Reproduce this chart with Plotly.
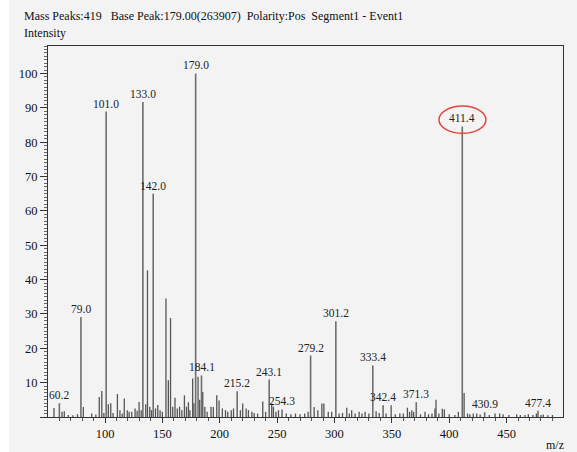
import plotly.graph_objects as go

# Labelled peaks (m/z, relative intensity %)
label_mz = [60.2, 79.0, 101.0, 133.0, 142.0, 179.0, 184.1, 215.2, 243.1, 254.3,
            279.2, 301.2, 333.4, 342.4, 371.3, 411.4, 430.9, 477.4]
label_int = [4.0, 29.1, 88.9, 91.7, 65.0, 100.0, 12.1, 7.5, 10.9, 2.2,
             17.9, 27.9, 15.0, 3.4, 4.3, 84.6, 1.4, 1.8]
label_text = ["60.2", "79.0", "101.0", "133.0", "142.0", "179.0", "184.1", "215.2",
              "243.1", "254.3", "279.2", "301.2", "333.4", "342.4", "371.3", "411.4",
              "430.9", "477.4"]

# Unlabelled peaks
other_mz = [55.5, 62.5, 64.5, 68, 72, 76, 81.1, 88.4, 92, 95.0, 97.2, 99, 102.9, 105, 107,
            110.8, 113, 115, 116.8, 119.4, 121, 123.3, 126.2, 128, 129.7, 131.5, 135.5,
            137, 139, 140.5, 144, 146, 148, 150, 153.1, 155.2, 157.1, 159, 161, 163, 165,
            167, 169.2, 171, 172.7, 174, 176.4, 177.5, 181.1, 182.5, 185.2, 187, 189,
            192.4, 194.4, 197.4, 199.4, 202.3, 205, 207, 210, 212, 218, 220, 223, 225,
            228, 230, 233, 237.5, 240, 245.3, 246.8, 249, 251.2, 258, 262, 266, 270,
            274, 277, 282.3, 285.5, 289, 290.8, 294.6, 297.6, 304, 307, 310.7, 313, 315,
            318, 321.5, 324, 326.7, 330, 336.3, 339, 345, 349.4, 353, 357, 360, 363.6,
            365.5, 367.4, 369, 375, 378.9, 382, 385, 387.6, 388.5, 391, 394, 395.8, 400,
            405, 408, 413, 416, 418, 421, 424, 427, 435, 440, 444, 447, 452, 458.8, 462,
            466, 469, 473, 476, 480, 482, 486, 490]
other_int = [2.6, 1.5, 1.7, 0.6, 0.5, 0.8, 2.9, 1.0, 0.7, 5.8, 7.6, 1.2, 3.7, 4.0, 1.2,
             6.7, 2.0, 1.0, 5.4, 2.0, 1.5, 1.5, 2.5, 1.8, 4.4, 2.0, 3.7,
             42.7, 3.0, 2.0, 2.5, 3.5, 2.0, 1.5, 34.5, 10.7, 28.8, 3.0, 5.6, 2.5, 3.0,
             2.0, 6.3, 3.0, 4.3, 2.0, 11.2, 4.0, 11.7, 5.0, 7.3, 3.0, 1.5,
             3.0, 2.9, 6.3, 4.8, 2.5, 2.0, 1.5, 2.0, 2.5, 2.0, 3.9, 2.5, 2.0,
             1.5, 1.2, 1.0, 4.5, 1.5, 4.0, 3.0, 1.5, 2.0, 1.0, 0.8, 1.0, 0.8,
             1.0, 1.5, 2.9, 2.0, 3.9, 3.9, 1.5, 1.5, 1.0, 1.2, 2.7, 1.0, 2.0,
             1.0, 1.5, 1.0, 1.5, 1.0, 1.7, 1.2, 1.0, 3.4, 0.8, 1.0, 1.0, 2.7,
             1.5, 2.0, 1.5, 0.8, 1.5, 0.8, 1.0, 2.5, 5.0, 1.0, 2.4, 2.2, 0.8,
             0.6, 1.5, 7.0, 1.0, 0.8, 1.0, 1.0, 0.7, 0.6, 1.0, 1.0, 0.8, 0.6, 0.8, 0.6,
             0.6, 0.8, 0.6, 1.0, 0.6, 0.7, 0.5, 0.6]

x_ticks = [100, 150, 200, 250, 300, 350, 400, 450]
y_ticks = [0, 10, 20, 30, 40, 50, 60, 70, 80, 90, 100]
y_ticktext = ["", "10", "20", "30", "40", "50", "60", "70", "80", "90", "100"]

title_text = ("Mass Peaks:419\u00a0\u00a0\u00a0Base Peak:179.00(263907)\u00a0\u00a0"
              "Polarity:Pos\u00a0\u00a0Segment1 - Event1")

SERIF = "Liberation Serif, Times New Roman, serif"
BG = "#f3f3f3"
TXT = "#111111"

def stems(mz, inten):
    xs, ys = [], []
    for m, v in zip(mz, inten):
        xs += [m, m, None]
        ys += [0, v, None]
    return xs, ys

fig = go.Figure()
ox, oy = stems(other_mz, other_int)
fig.add_trace(go.Scatter(x=ox, y=oy, mode="lines",
                         line=dict(color="#555555", width=1.3),
                         hoverinfo="skip", showlegend=False))
lx, ly = stems(label_mz, label_int)
fig.add_trace(go.Scatter(x=lx, y=ly, mode="lines",
                         line=dict(color="#6e6e6e", width=1.6),
                         hoverinfo="skip", showlegend=False))

for m, v, t in zip(label_mz, label_int, label_text):
    fig.add_annotation(x=m, y=v, xref="x", yref="y", text=t, showarrow=False,
                       yanchor="bottom", xanchor="center", yshift=0,
                       font=dict(family=SERIF, size=11.5, color="#222222"))

# Red ellipse around 411.4 label
fig.add_shape(type="circle", xref="x", yref="y", x0=391.1, x1=432.0, y0=82.6, y1=90.5,
              line=dict(color="#e8453c", width=1.5))

# White scan margin on the left
fig.add_shape(type="rect", xref="paper", yref="paper", x0=-0.0935, x1=-0.0757,
              y0=-0.2, y1=1.2, fillcolor="white", line=dict(width=0), layer="below")

fig.add_annotation(xref="paper", yref="paper", x=-0.0505, y=1.081, text=title_text,
                   showarrow=False, xanchor="left", yanchor="middle",
                   font=dict(family=SERIF, size=12, color=TXT))
fig.add_annotation(xref="paper", yref="paper", x=-0.0505, y=1.035, text="Intensity",
                   showarrow=False, xanchor="left", yanchor="middle",
                   font=dict(family=SERIF, size=12, color=TXT))
fig.add_annotation(xref="paper", yref="paper", x=0.9845, y=-0.0755, text="m/z",
                   showarrow=False, xanchor="center", yanchor="middle",
                   font=dict(family=SERIF, size=12, color=TXT))

fig.update_layout(
    width=577, height=452,
    margin=dict(l=48, r=14, t=46, b=35),
    paper_bgcolor=BG, plot_bgcolor=BG,
    showlegend=False,
    font=dict(family=SERIF, size=12, color=TXT),
)
fig.update_xaxes(range=[50.3, 499.2], tickvals=x_ticks, ticks="outside", ticklen=5,
                 tickcolor="#333", showline=True, linecolor="#333", linewidth=1,
                 mirror=True, showgrid=False, zeroline=False,
                 tickfont=dict(family=SERIF, size=12.5, color=TXT),
                 minor=dict(dtick=10, tick0=0, ticks="outside", ticklen=3,
                            tickcolor="#555", showgrid=False))
fig.update_yaxes(range=[0, 108], tickvals=y_ticks, ticktext=y_ticktext, ticks="outside",
                 ticklen=7, tickcolor="#333", showline=True, linecolor="#333",
                 linewidth=1, mirror=True, showgrid=False, zeroline=False,
                 tickfont=dict(family=SERIF, size=12.5, color=TXT),
                 minor=dict(dtick=1, tick0=0, ticks="outside", ticklen=3,
                            tickcolor="#666", showgrid=False))

fig.write_html("out.html")
